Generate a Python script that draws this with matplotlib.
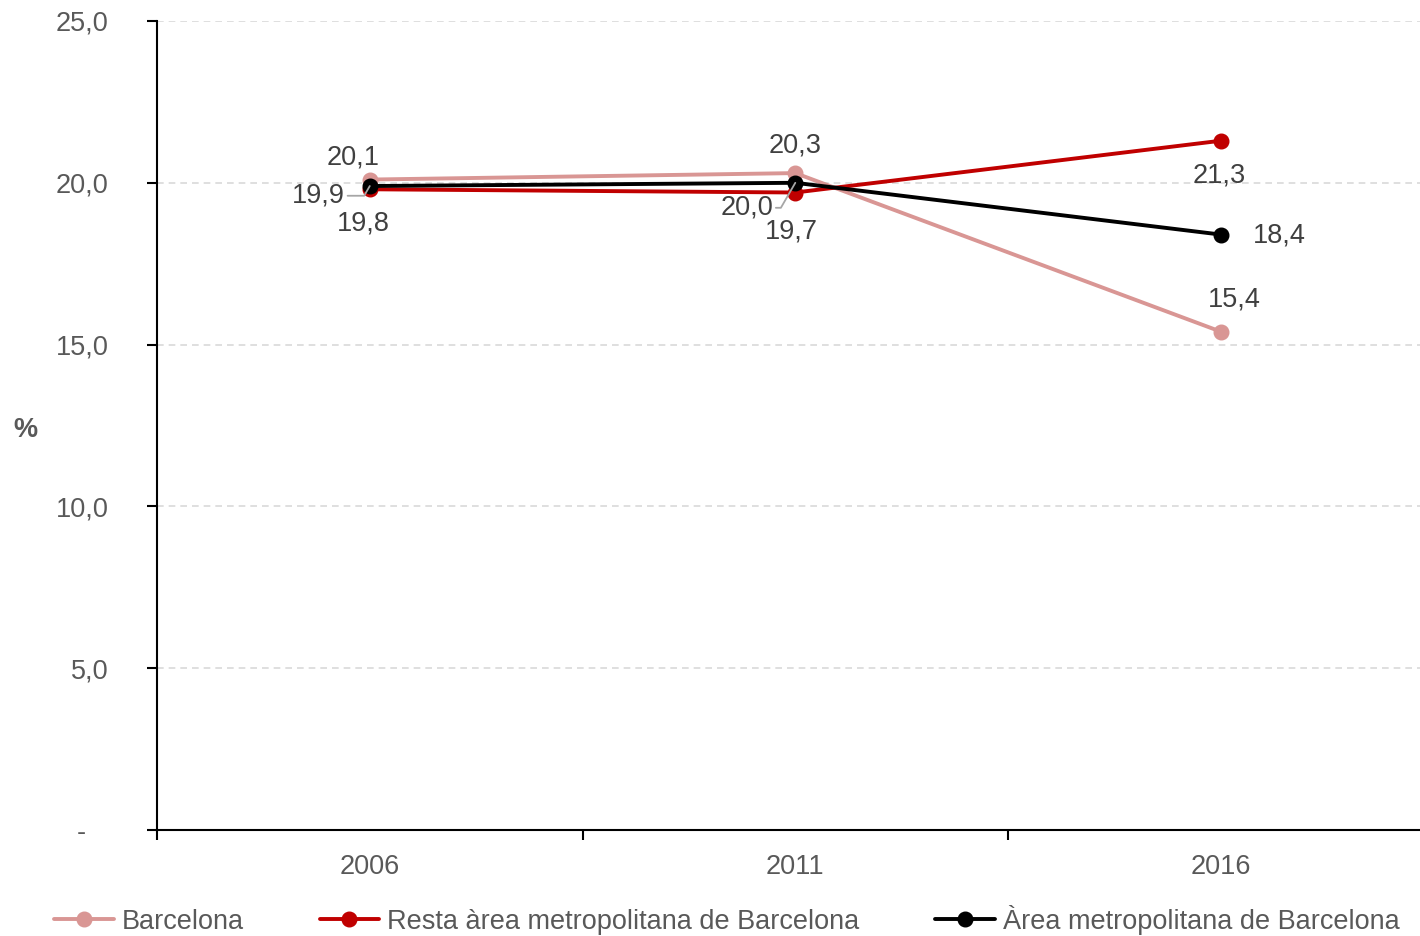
import matplotlib.pyplot as plt

# Values
years = ['2006', '2011', '2016']
barcelona = [20.1, 20.3, 15.4]
resta_amb = [19.8, 19.7, 21.3]
area_amb = [19.9, 20.0, 18.4]
series_names = ['Barcelona', 'Resta àrea metropolitana de Barcelona',
                'Àrea metropolitana de Barcelona']
y_ticks = [0, 5, 10, 15, 20, 25]

plt.rcParams['font.family'] = ['Liberation Sans', 'DejaVu Sans']
grey = '#595959'
label_grey = '#404040'
fs = 19.5

fig = plt.figure(figsize=(14.2, 9.36), dpi=100)
ax = fig.add_axes([157 / 1420, 1 - 830 / 936, 1 - 157 / 1420, (830 - 21) / 936])

x = list(range(len(years)))
styles = [('#D99694', barcelona), ('#C00000', resta_amb), ('#000000', area_amb)]
for (col, vals), name in zip(styles, series_names):
    ax.plot(x, vals, color=col, lw=2.8, marker='o', ms=10.5, label=name,
            solid_capstyle='round', zorder=3)

# data labels (offsets in points)
def lab(xi, yi, txt, dx, dy, leader=False):
    ax.annotate(txt, (xi, yi), xytext=(dx, dy), textcoords='offset points',
                ha='center', va='center', fontsize=fs, color=label_grey,
                arrowprops=dict(arrowstyle='-', color='#A6A6A6', lw=1.3,
                                shrinkA=0, shrinkB=0,
                                connectionstyle='angle,angleA=0,angleB=60')
                if leader else None, zorder=5)

fmt = lambda v: f'{v:.1f}'.replace('.', ',')
lab(0, barcelona[0], fmt(barcelona[0]), -12, 16)
lab(1, barcelona[1], fmt(barcelona[1]), 0, 20)
lab(2, barcelona[2], fmt(barcelona[2]), 10, 23)
lab(0, resta_amb[0], fmt(resta_amb[0]), -5, -25)
lab(1, resta_amb[1], fmt(resta_amb[1]), -3, -28)
lab(2, resta_amb[2], fmt(resta_amb[2]), -1, -25)
lab(0, area_amb[0], fmt(area_amb[0]), -37, -7, leader=True)
lab(1, area_amb[1], fmt(area_amb[1]), -35, -18, leader=True)
lab(2, area_amb[2], fmt(area_amb[2]), 42, -1)

ax.set_xlim(-0.5, 2.468)
ax.set_ylim(0, 25)
ax.set_yticks(y_ticks)
ax.set_yticklabels(['-   ' if t == 0 else fmt(t) for t in y_ticks])
ax.set_xticks(x)
ax.set_xticklabels(years)
ax.set_xticks([-0.5, 0.5, 1.5], minor=True)
ax.tick_params(axis='x', which='major', length=0, pad=17, labelsize=fs, labelcolor=grey)
ax.tick_params(axis='x', which='minor', length=7, width=1.5, direction='out')
ax.tick_params(axis='y', length=7, width=1.5, direction='out', labelsize=fs,
               labelcolor=grey, pad=28)

ax.grid(axis='y', color='#D9D9D9', ls=(0, (4, 3)), lw=1.2)
ax.set_axisbelow(True)
for s in ['top', 'right']:
    ax.spines[s].set_visible(False)
for s in ['left', 'bottom']:
    ax.spines[s].set_linewidth(1.5)

fig.text(25 / 1420, 1 - 430 / 936, '%', fontsize=fs, fontweight='bold',
         color=grey, ha='center', va='center')

fig.legend(loc='lower left', bbox_to_anchor=(35 / 1420, -0.019), ncol=3,
           frameon=False, fontsize=fs, labelcolor=grey, handlelength=2.2,
           handletextpad=0.3, columnspacing=2.8, borderpad=0.2)

fig.savefig('out.png', dpi=100)
